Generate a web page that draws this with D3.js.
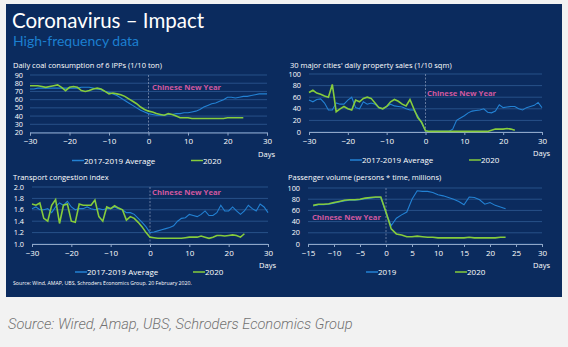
<!DOCTYPE html>
<html>
<head>
<meta charset="utf-8">
<script src="https://cdn.jsdelivr.net/npm/d3@7"></script>
<style>
  body { margin: 0; background: #f2f2f2; }
  svg { display: block; }
  text { font-family: "Open Sans", sans-serif; }
</style>
</head>
<body>
<svg id="chart" width="568" height="347"></svg>
<script>
// days relative to Chinese New Year
const coalDays = d3.range(-30, 31);
const coalAvg = [73,73,74,74,74,74,74,74,74,74,74,74,74,75,75,75,74,73,72,70,69,67,65,62,59,56,53,50,47,45,43,42,41,41,41,42,42,43,43,44,44,45,46,48,51,53,55,56,58,60,63,63,62,63,64,64,65,66,67,67,67];
const coal2020 = [77,77,77,76,75,76,77,78,75,71,75,76,75,71,70,71,73,74,73,70,67,68,67,66,64,61,58,55,51,48,46,45,43,42,41,43,42,40,38,38,38,37,37,37,37,37,37,37,37,37,38,38,38,38,38];

const propDays = d3.range(-30, 31);
const propAvg = [55,52,56,57,50,38,38,50,48,48,55,60,42,40,52,48,50,48,42,40,44,48,45,44,43,40,38,38,28,15,2,1,1,1,1,1,1,5,20,24,28,33,36,37,38,40,34,33,36,47,42,43,44,44,40,38,42,44,46,51,42];
const prop2020 = [68,72,67,65,62,60,82,35,40,44,40,38,55,52,58,60,58,50,42,40,44,52,56,53,48,45,56,40,25,17,2,1,1,1,1,1,1,1,1,1,1,1,1,1,1,1,1,3,5,5,5,6,5,3];

const transDays = d3.range(-30, 31);
const transAvg = [1.62,1.65,1.60,1.60,1.62,1.55,1.65,1.72,1.68,1.75,1.65,1.60,1.62,1.62,1.65,1.62,1.60,1.62,1.60,1.62,1.62,1.65,1.62,1.60,1.55,1.55,1.52,1.45,1.38,1.30,1.20,1.21,1.23,1.25,1.27,1.29,1.32,1.40,1.45,1.46,1.52,1.50,1.48,1.52,1.58,1.50,1.50,1.55,1.68,1.58,1.58,1.65,1.58,1.52,1.58,1.68,1.62,1.58,1.70,1.65,1.55];
const trans2020 = [1.70,1.68,1.72,1.45,1.40,1.68,1.78,1.36,1.68,1.70,1.40,1.38,1.70,1.68,1.68,1.68,1.77,1.48,1.40,1.65,1.62,1.67,1.63,1.60,1.42,1.48,1.45,1.38,1.30,1.20,1.12,1.11,1.10,1.10,1.10,1.10,1.10,1.10,1.10,1.11,1.12,1.12,1.12,1.14,1.12,1.10,1.12,1.15,1.15,1.14,1.15,1.16,1.15,1.12,1.18];

const passDays = d3.range(-14, 24);
const pass2019 = [68,70,70,71,73,75,77,78,78,79,81,82,83,83,55,33,46,52,57,80,95,94,94,92,88,86,83,80,76,70,84,83,79,71,74,69,66,63];
const pass2020 = [69,71,71,72,74,76,78,79,79,80,82,83,84,84,57,27,18,16,13,13,14,13,12,12,11,11,11,11,11,11,12,11,11,11,11,11,12,12];

const avgColor = "#2382d4";
const newColor = "#86cc3c";
const pink = "#d0589e";

const svg = d3.select("#chart");

svg.append("rect").attr("x", 6).attr("y", 4).attr("width", 556).attr("height", 293).attr("fill", "#0b2b5e");

svg.append("text").attr("x", 12).attr("y", 28).attr("fill", "#fff")
  .style("font-family", "Lato, sans-serif").style("font-size", "20.5px")
  .text("Coronavirus \u2013 Impact");
svg.append("text").attr("x", 13).attr("y", 46).attr("fill", "#1c7fd0")
  .style("font-family", "Lato, sans-serif").style("font-size", "14px")
  .text("High-frequency data");

function drawPanel(p) {
  const x = d3.scaleLinear().domain(p.xDomain).range(p.xRange);
  const y = d3.scaleLinear().domain(p.yDomain).range(p.yRange);
  const g = svg.append("g");

  g.append("text").attr("x", p.titleX).attr("y", p.titleY).attr("fill", "#fff")
    .style("font-size", "7.5px").text(p.title);

  // grid
  g.selectAll(".grid").data(p.yTicks).enter().append("line")
    .attr("x1", p.xRange[0]).attr("x2", p.xRange[1])
    .attr("y1", d => y(d)).attr("y2", d => y(d))
    .attr("stroke", "#2f5a94").attr("stroke-width", 0.8);

  g.selectAll(".ylab").data(p.yTicks).enter().append("text")
    .attr("x", p.yLabelX).attr("y", d => y(d) + 2.6)
    .attr("text-anchor", "end").attr("fill", "#fff").style("font-size", "7.3px")
    .text(p.yFormat);

  // x axis
  const xAxis = g.append("g").attr("transform", `translate(0,${p.yRange[0]})`)
    .call(d3.axisBottom(x).tickValues(p.xTicks).tickSize(3).tickPadding(3));
  xAxis.select(".domain").attr("stroke", "#8fa6c8");
  xAxis.selectAll(".tick line").attr("stroke", "#8fa6c8");
  xAxis.selectAll("text").attr("fill", "#fff").style("font-size", "8px")
    .style("font-family", "'Open Sans', sans-serif");

  g.append("text").attr("x", p.xRange[1] + 8).attr("y", p.yRange[0] + 24)
    .attr("text-anchor", "end").attr("fill", "#fff").style("font-size", "7.5px").text("Days");

  // CNY marker
  g.append("line").attr("x1", x(0)).attr("x2", x(0))
    .attr("y1", p.yRange[1]).attr("y2", p.yRange[0])
    .attr("stroke", "#8c9cbc").attr("stroke-width", 0.7).attr("stroke-dasharray", "2,1.5");
  g.append("text").attr("x", p.cnyX).attr("y", p.cnyY)
    .attr("text-anchor", p.cnyAnchor).attr("fill", pink)
    .style("font-size", "7.7px").style("font-weight", "bold").text("Chinese New Year");

  const line = d3.line().x(d => x(d[0])).y(d => y(d[1]));
  g.append("path").datum(d3.zip(p.days, p.avg)).attr("d", line)
    .attr("fill", "none").attr("stroke", avgColor).attr("stroke-width", 1.1);
  g.append("path").datum(d3.zip(p.days, p.cur)).attr("d", line)
    .attr("fill", "none").attr("stroke", newColor).attr("stroke-width", 1.6);

  // legend
  const ly = p.yRange[0] + 28;
  [[p.legX[0], avgColor, p.names[0]], [p.legX[1], newColor, p.names[1]]].forEach(l => {
    g.append("line").attr("x1", l[0]).attr("x2", l[0] + 12).attr("y1", ly).attr("y2", ly)
      .attr("stroke", l[1]).attr("stroke-width", 1.5);
    g.append("text").attr("x", l[0] + 12).attr("y", ly + 3).attr("fill", "#fff")
      .style("font-size", "8px").text(l[2]);
  });
}

drawPanel({
  title: "Daily coal consumption of 6 IPPs (1/10 ton)", titleX: 13, titleY: 68,
  xDomain: [-30, 30], xRange: [30, 267], yDomain: [20, 90], yRange: [132.5, 75],
  yTicks: d3.range(20, 91, 10), yFormat: d => d, yLabelX: 23,
  xTicks: d3.range(-30, 31, 10),
  cnyX: 152, cnyY: 90, cnyAnchor: "start",
  days: coalDays, avg: coalAvg, cur: coal2020,
  legX: [72, 191], names: ["2017-2019 Average", "2020"]
});

drawPanel({
  title: "30 major cities' daily property sales (1/10 sqm)", titleX: 290, titleY: 68,
  xDomain: [-30, 30], xRange: [309, 542], yDomain: [0, 100], yRange: [132, 74],
  yTicks: d3.range(0, 101, 20), yFormat: d => d, yLabelX: 301,
  xTicks: d3.range(-30, 31, 10),
  cnyX: 427, cnyY: 96, cnyAnchor: "start",
  days: propDays, avg: propAvg, cur: prop2020,
  legX: [350, 469], names: ["2017-2019 Average", "2020"]
});

drawPanel({
  title: "Transport congestion index", titleX: 13, titleY: 180,
  xDomain: [-30, 30], xRange: [32, 268], yDomain: [1.0, 2.0], yRange: [244, 187],
  yTicks: d3.range(0, 6).map(i => 1 + i * 0.2), yFormat: d3.format(".1f"), yLabelX: 24,
  xTicks: d3.range(-30, 31, 10),
  cnyX: 152, cnyY: 195, cnyAnchor: "start",
  days: transDays, avg: transAvg, cur: trans2020,
  legX: [75, 193], names: ["2017-2019 Average", "2020"]
});

drawPanel({
  title: "Passenger volume (persons * time, millions)", titleX: 288, titleY: 180,
  xDomain: [-15, 30], xRange: [308, 542], yDomain: [0, 100], yRange: [244, 188],
  yTicks: d3.range(0, 101, 20), yFormat: d => d, yLabelX: 300,
  xTicks: d3.range(-15, 31, 5),
  cnyX: 381, cnyY: 220, cnyAnchor: "end",
  days: passDays, avg: pass2019, cur: pass2020,
  legX: [366, 455], names: ["2019", "2020"]
});

svg.append("text").attr("x", 13).attr("y", 285).attr("fill", "#fff")
  .style("font-size", "5.2px")
  .text("Source: Wind, AMAP, UBS, Schroders Economics Group. 20 February 2020.");

svg.append("text").attr("x", 8).attr("y", 329).attr("fill", "#727272")
  .style("font-family", "Roboto, sans-serif").style("font-style", "italic")
  .style("font-weight", 300).style("font-size", "14.6px")
  .text("Source: Wired, Amap, UBS, Schroders Economics Group");
</script>
</body>
</html>
